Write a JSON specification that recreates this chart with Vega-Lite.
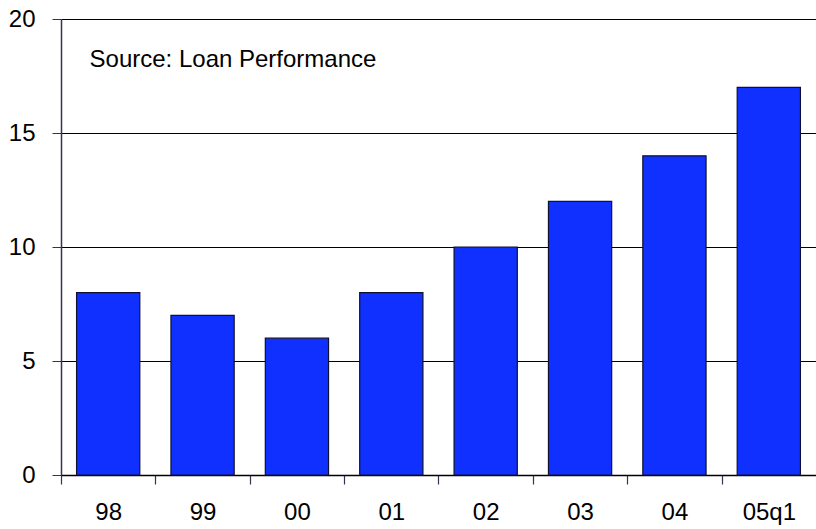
{
  "$schema": "https://vega.github.io/schema/vega-lite/v6.json",
  "autosize": "none",
  "width": 755,
  "height": 456,
  "padding": {"left": 61, "top": 19, "right": 0, "bottom": 54},
  "background": "white",
  "config": {"view": {"stroke": null}, "font": "Liberation Sans"},
  "data": {"values": [
    {"period": "98", "value": 8},
    {"period": "99", "value": 7},
    {"period": "00", "value": 6},
    {"period": "01", "value": 8},
    {"period": "02", "value": 10},
    {"period": "03", "value": 12},
    {"period": "04", "value": 14},
    {"period": "05q1", "value": 17}
  ]},
  "layer": [
    {
      "mark": {"type": "bar", "color": "#1030FF", "stroke": "#101030", "strokeWidth": 1.2},
      "encoding": {
        "x": {"field": "period", "type": "nominal",
              "scale": {"domain": ["98", "99", "00", "01", "02", "03", "04", "05q1"], "paddingInner": 0.33, "paddingOuter": 0.165},
              "axis": {"title": null, "labelAngle": 0, "tickOffset": -47.2, "labelOffset": 47.2,
                       "labelFontSize": 24, "labelColor": "black", "labelPadding": 16,
                       "ticks": true, "tickSize": 9, "tickWidth": 1.2, "tickColor": "#333355", "domainColor": "black",
                       "domainWidth": 1.5, "grid": false}},
        "y": {"field": "value", "type": "quantitative",
              "scale": {"domain": [0, 20], "nice": false},
              "axis": {"title": null, "values": [0, 5, 10, 15, 20], "labelFontSize": 24,
                       "labelColor": "black", "labelPadding": 17, "tickSize": 9,
                       "tickColor": "#333355", "domainColor": "#333355", "domainWidth": 1.5,
                       "grid": true, "gridColor": "black", "gridWidth": 1.2, "gridOpacity": 1}}
      }
    },
    {
      "data": {"values": [{"label": "Source: Loan Performance", "period": "98", "value": 18.2}]},
      "mark": {"type": "text", "align": "left", "baseline": "middle", "fontSize": 24, "color": "black", "dx": 13},
      "encoding": {
        "x": {"field": "period", "type": "nominal", "bandPosition": 0},
        "y": {"field": "value", "type": "quantitative"},
        "text": {"field": "label"}
      }
    }
  ]
}
